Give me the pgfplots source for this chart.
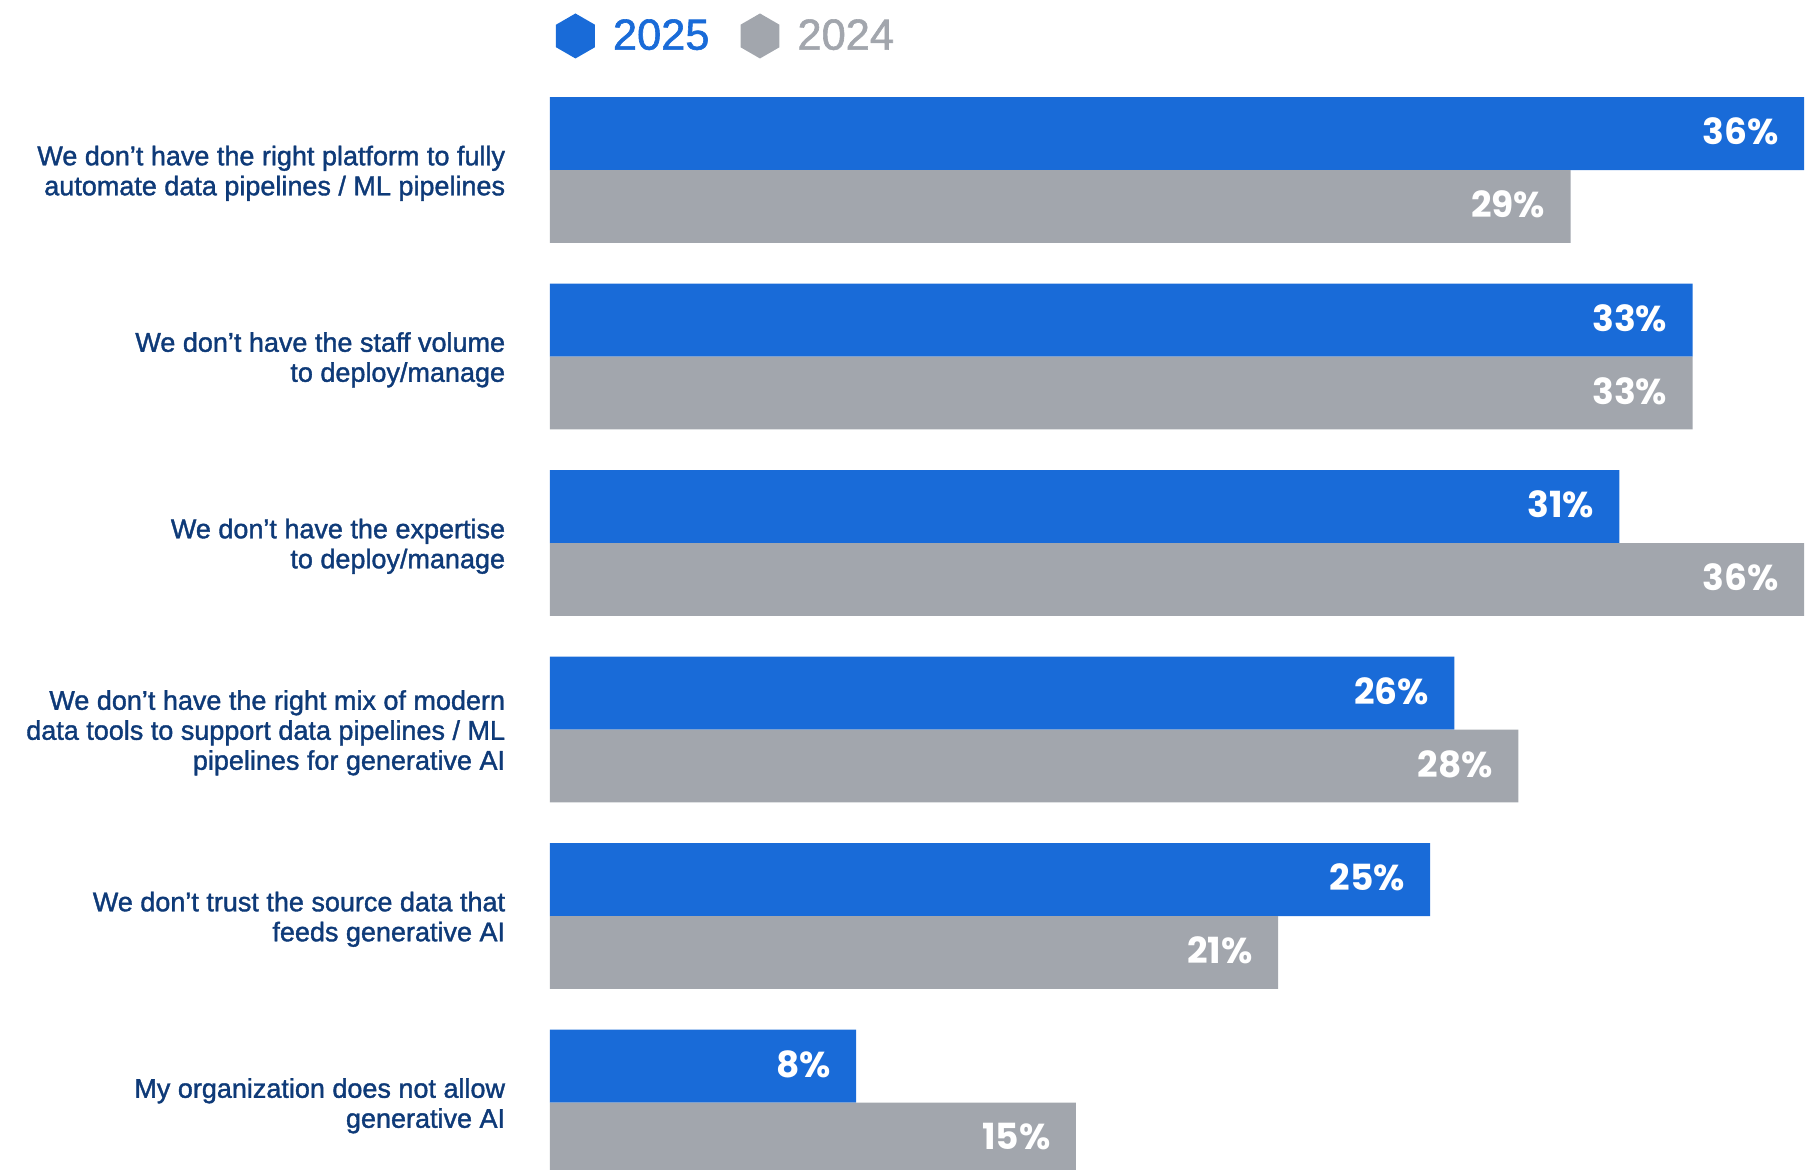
\documentclass[border=0pt]{standalone}
\usepackage{fontspec}
\setmainfont{Liberation Sans}
\newfontfamily\labfont{Liberation Sans}[FakeBold=1.4]
\newfontfamily\valfont{Poppins}
\usepackage{pgfplots}
\pgfplotsset{compat=1.18}
\definecolor{bblue}{HTML}{196BD8}
\definecolor{bgray}{HTML}{A2A6AD}
\definecolor{navy}{HTML}{0E3A78}
\begin{document}
\begin{tikzpicture}
\begin{axis}[
  scale only axis, width=627pt, height=585pt,
  xmin=0, xmax=36, ymin=0, ymax=1170,
  axis line style={draw=none}, xtick=\empty,
  ytick={67.4,253.9,440.4,626.9,813.4,999.9},
  yticklabels={
    {My organization does not allow\\generative AI},
    {We don’t trust the source data that\\feeds generative AI},
    {We don’t have the right mix of modern\\data tools to support data pipelines / ML\\pipelines for generative AI},
    {We don’t have the expertise\\to deploy/manage},
    {We don’t have the staff volume\\to deploy/manage},
    {We don’t have the right platform to fully\\automate data pipelines / ML pipelines}},
  ytick style={draw=none}, major tick length=0pt,
  yticklabel style={align=right, font=\labfont\fontsize{13.5}{15}\selectfont, text=navy, inner sep=0pt, xshift=-22.25pt, yshift=-1.6pt},
  xbar, bar shift=0pt, bar width=72.9,
  point meta=explicit symbolic,
  nodes near coords,
  every node near coord/.append style={anchor=east, inner sep=0pt, xshift=-12.5pt, yshift=1.1pt, text=white, font=\valfont\bfseries\fontsize{18}{18}\selectfont},
  legend image code/.code={\fill[#1, draw=none] (9.74pt,0pt) +(90:11.25pt) -- +(150:11.25pt) -- +(210:11.25pt) -- +(270:11.25pt) -- +(330:11.25pt) -- +(30:11.25pt) -- cycle;},
  legend columns=2,
  legend style={draw=none, fill=none, inner sep=0pt, outer sep=0pt, at={(axis cs:0.172,1134)}, anchor=west,
    font=\labfont\fontsize{21.7}{24}\selectfont,
    nodes={inner sep=0pt},
    /tikz/every odd column/.append style={column sep=9pt},
    /tikz/every even column/.append style={column sep=15.5pt}},
]
\addplot[fill=bblue, draw=none] coordinates {
  (36.0,1036.35) [36\%]
  (32.8,849.85) [33\%]
  (30.7,663.35) [31\%]
  (25.96,476.85) [26\%]
  (25.27,290.35) [25\%]
  (8.79,103.85) [8\%]
};
\addlegendentry{\textcolor{bblue}{2025}}
\addplot[fill=bgray, draw=none] coordinates {
  (29.3,963.45) [29\%]
  (32.8,776.95) [33\%]
  (36.0,590.45) [36\%]
  (27.8,403.95) [28\%]
  (20.9,217.45) [21\%]
  (15.1,30.95) [15\%]
};
\addlegendentry{\textcolor{bgray}{2024}}
\end{axis}
\pgfresetboundingbox
\useasboundingbox (-275pt,0pt) rectangle (632pt,585pt);
\end{tikzpicture}
\end{document}
